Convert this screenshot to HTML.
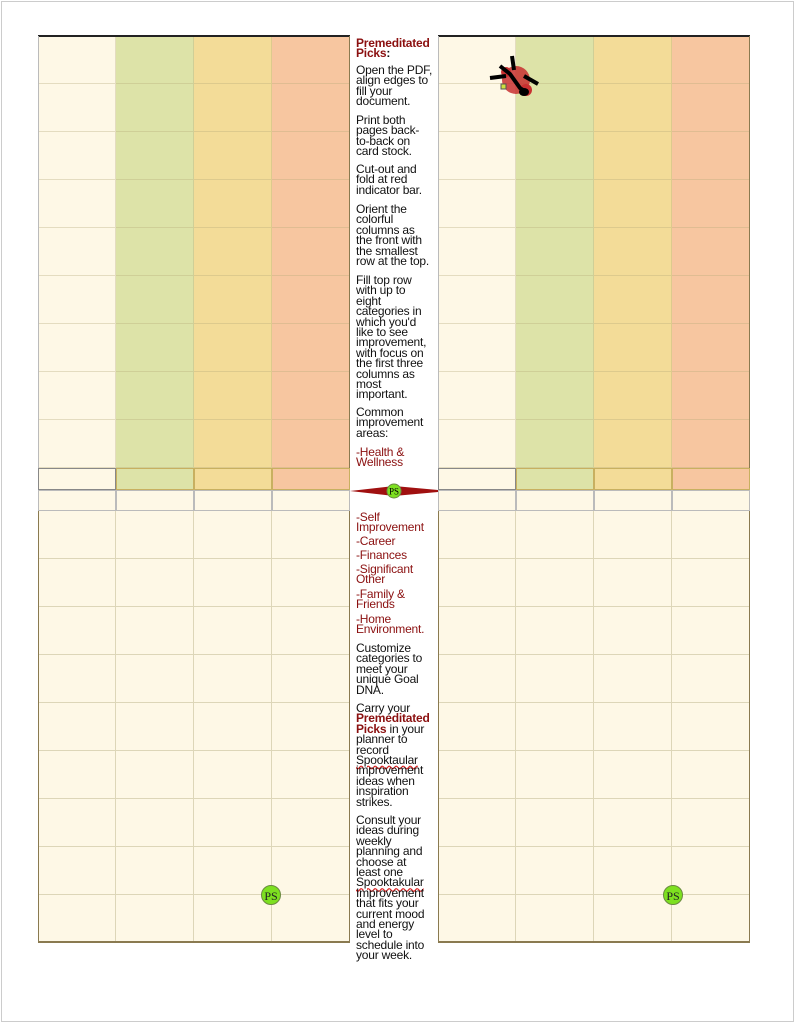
<!DOCTYPE html>
<html><head><meta charset="utf-8">
<style>
body{margin:0;width:795px;height:1024px;background:#fff;position:relative;overflow:hidden;font-family:"Liberation Sans",Arial,sans-serif;}
.frame{position:absolute;left:1px;top:1px;width:791px;height:1019px;border:1px solid #ccc;}
.cell{position:absolute;box-sizing:border-box;}
.t{position:absolute;left:356px;width:82px;font-size:12px;line-height:10.4px;color:#111;letter-spacing:-0.2px;}
.r{color:#8b1010;}
.b{font-weight:bold;}
.ps{position:absolute;width:20px;height:20px;border-radius:50%;background:#7de020;border:1px solid #6a8a40;font-family:"Liberation Serif",serif;font-size:12px;line-height:20px;text-align:center;color:#222;box-sizing:border-box;}
</style></head><body>
<div class="frame"></div>
<div id="grids"></div>

<div class="t r b" style="top:38px">Premeditated<br>Picks<span style="color:#111">:</span></div>
<div class="t" style="top:65px">Open the PDF,<br>align edges to<br>fill your<br>document.</div>
<div class="t" style="top:115px">Print both<br>pages back-<br>to-back on<br>card stock.</div>
<div class="t" style="top:164px">Cut-out and<br>fold at red<br>indicator bar.</div>
<div class="t" style="top:204px">Orient the<br>colorful<br>columns as<br>the front with<br>the smallest<br>row at the top.</div>
<div class="t" style="top:275px">Fill top row<br>with up to<br>eight<br>categories in<br>which you'd<br>like to see<br>improvement,<br>with focus on<br>the first three<br>columns as<br>most<br>important.</div>
<div class="t" style="top:407px">Common<br>improvement<br>areas:</div>
<div class="t r" style="top:447px">-Health &amp;<br>Wellness</div>
<div class="t r" style="top:512px">-Self<br>Improvement</div>
<div class="t r" style="top:536px">-Career</div>
<div class="t r" style="top:550px">-Finances</div>
<div class="t r" style="top:564px">-Significant<br>Other</div>
<div class="t r" style="top:589px">-Family &amp;<br>Friends</div>
<div class="t r" style="top:614px">-Home<br>Environment.</div>
<div class="t" style="top:643px">Customize<br>categories to<br>meet your<br>unique Goal<br>DNA.</div>
<div class="t" style="top:703px">Carry your<br><span class="r b">Premeditated<br>Picks</span> in your<br>planner to<br>record<br><span style="text-decoration:underline wavy #d22;">Spooktaular</span><br>improvement<br>ideas when<br>inspiration<br>strikes.</div>
<div class="t" style="top:815px">Consult your<br>ideas during<br>weekly<br>planning and<br>choose at<br>least one<br><span style="text-decoration:underline wavy #d22;">Spooktakular</span><br>Improvement<br>that fits your<br>current mood<br>and energy<br>level to<br>schedule into<br>your week.</div>

<svg style="position:absolute;left:350px;top:480px" width="90" height="22">
<polygon points="0,11 44,6 88,10 88,12 44,16" fill="#a01010"/>
<circle cx="44" cy="11" r="7" fill="#7de020" stroke="#6a8a40"/>
<text x="44" y="14.5" font-size="9" text-anchor="middle" font-family="Liberation Serif,serif">PS</text>
</svg>
<div class="ps" style="left:261px;top:885px">PS</div>
<div class="ps" style="left:663px;top:885px">PS</div>

<svg style="position:absolute;left:486px;top:50px" width="62" height="64">
<circle cx="30" cy="30" r="14" fill="#c83030" opacity="0.85"/>
<circle cx="20" cy="22" r="5" fill="#c83030"/><circle cx="40" cy="40" r="6" fill="#c83030"/>
<path d="M14,16 L24,24 L34,38 L40,42 M26,6 L28,20 M4,28 L20,26 M38,26 L52,34" stroke="#000" stroke-width="4" fill="none"/>
<ellipse cx="38" cy="42" rx="5" ry="4" fill="#000"/>
<rect x="15" y="34" width="5" height="5" fill="#cde040" stroke="#555"/>
</svg>

<script>
const columns=["cream","green","yellow","salmon"];
const colColor={cream:"#fef8e6",green:"#dde3a8",yellow:"#f3dc98",salmon:"#f7c6a0"};
const g=document.getElementById('grids');
function grid(x0,name){
  const w=78;
  for(let c=0;c<4;c++){
    for(let r=0;r<9;r++){
      const d=document.createElement('div');d.className='cell';
      
      
      d.style.cssText=`left:${x0+c*w}px;top:${36+r*48}px;width:${w}px;height:48px;background:${colColor[columns[c]]};border-right:1px solid rgba(180,170,120,0.35);border-bottom:1px solid rgba(180,170,120,0.35);`;
      g.appendChild(d);
    }
    const h=document.createElement('div');h.className='cell';
    
    
    h.style.cssText=`left:${x0+c*w}px;top:468px;width:${w}px;height:22px;background:${colColor[columns[c]]};border:1px solid ${c==0?'#888':'#c8b060'};`;
    g.appendChild(h);
    const s=document.createElement('div');s.className='cell';
    
    
    s.style.cssText=`left:${x0+c*w}px;top:490px;width:${w}px;height:21px;background:#fef8e6;border:1px solid #bbb;`;
    g.appendChild(s);
    for(let r=0;r<9;r++){
      const d=document.createElement('div');d.className='cell';
      
      
      d.style.cssText=`left:${x0+c*w}px;top:${511+r*48}px;width:${w}px;height:48px;background:#fef8e6;border-right:1px solid #ddd6b8;border-bottom:1px solid #ddd6b8;`;
      g.appendChild(d);
    }
  }
  const top=document.createElement('div');top.className='cell';
  
  
  top.style.cssText=`left:${x0}px;top:35px;width:${4*w}px;height:2px;background:#222;`;
  g.appendChild(top);
  const box=document.createElement('div');box.className='cell';
  
  
  box.style.cssText=`left:${x0}px;top:511px;width:${4*w}px;height:432px;border:1px solid #8a7a50;border-top:none;border-bottom:2px solid #8a7a50;`;
  g.appendChild(box);
  const side=document.createElement('div');side.className='cell';
  
  
  side.style.cssText=`left:${x0}px;top:36px;width:${4*w}px;height:432px;border-left:1px solid #bbb;border-right:1px solid #8a7a50;`;
  g.appendChild(side);
}
grid(38,'left-grid');
grid(438,'right-grid');
</script>
</body></html>
